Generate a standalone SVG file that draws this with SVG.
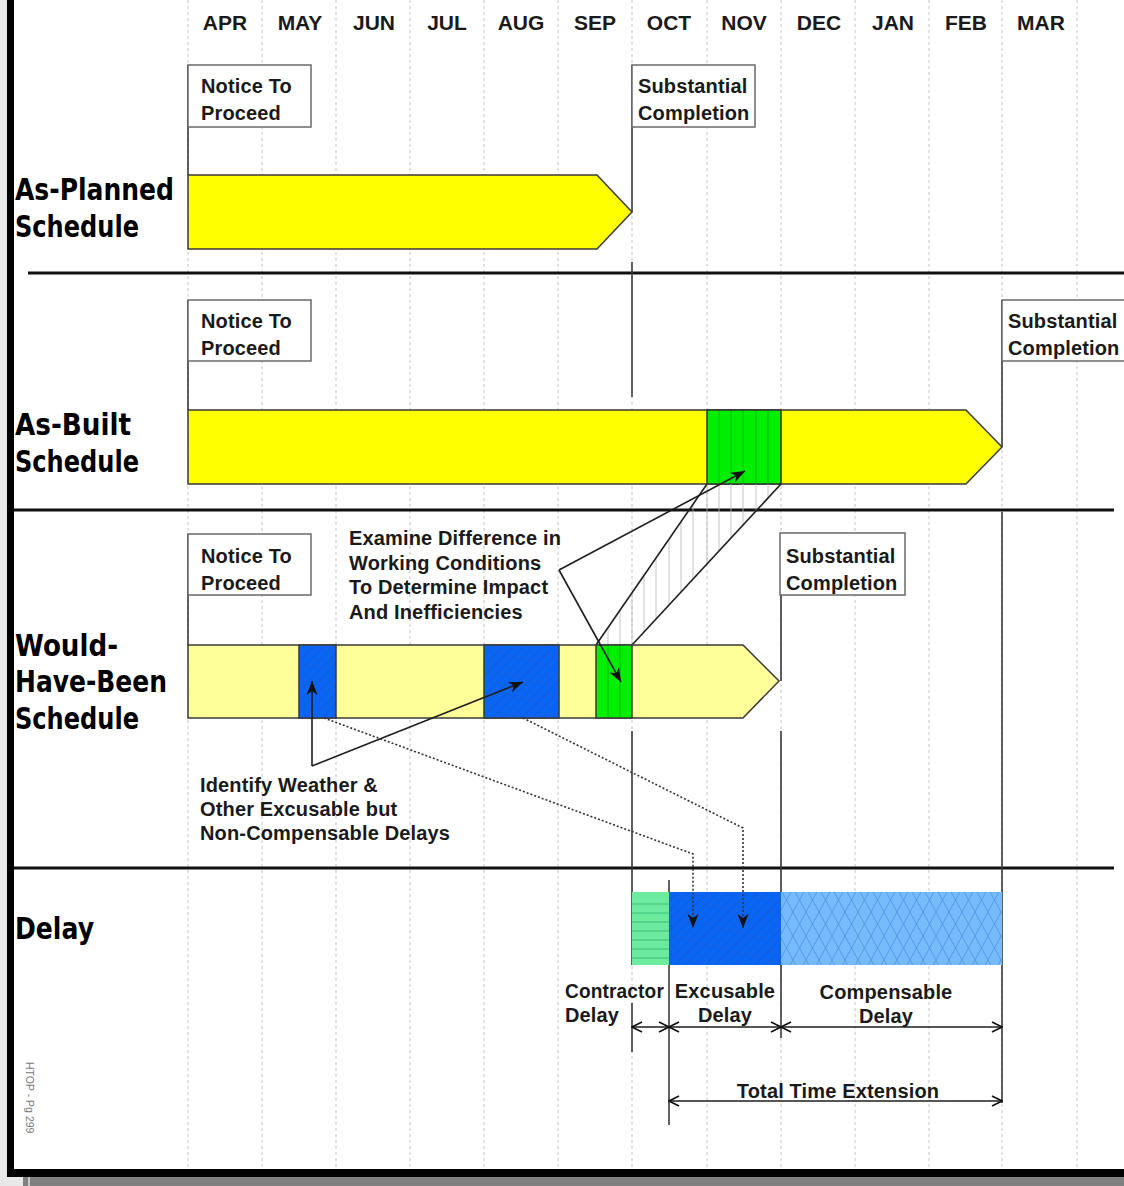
<svg xmlns="http://www.w3.org/2000/svg" width="1124" height="1186" viewBox="0 0 1124 1186">
  <style>
    .grid{stroke:#c4c4c4;stroke-width:1;stroke-dasharray:3 3}
    .sep{stroke:#111;stroke-width:3}
    .box{fill:#fff;stroke:#6a6a6a;stroke-width:1.5}
    .bar{stroke:#3a3a3a;stroke-width:1.5}
    .pin{stroke:#3a3a3a;stroke-width:1.6}
    .lbl{font-family:"Liberation Sans",Arial,sans-serif;font-weight:bold;font-size:20px;letter-spacing:0.15px;fill:#1a1a1a}
    .mon{font-family:"Liberation Sans",Arial,sans-serif;font-weight:bold;font-size:21px;fill:#1a1a1a;text-anchor:middle}
    .row{font-family:"DejaVu Sans",sans-serif;font-weight:bold;font-size:31px;fill:#000}
    .mid{text-anchor:middle}
    .lead{stroke:#1e1e1e;stroke-width:1.6;fill:none}
    .dot{stroke:#333;stroke-width:1.6;stroke-dasharray:2 2;fill:none}
    .dim{stroke:#1e1e1e;stroke-width:1.6;fill:none}
    .vh{stroke:#00a800;stroke-width:0.8}
    .proj{stroke:#b8b8b8;stroke-width:0.8}
    .hz{stroke:#2fb870;stroke-width:0.8}
  </style>
  <defs>
    <marker id="arrowSolid" markerUnits="userSpaceOnUse" markerWidth="15" markerHeight="11" refX="14" refY="5.5" orient="auto">
      <path d="M0,0 L14,5.5 L0,11 L4,5.5 z" fill="#111"/>
    </marker>
    <marker id="arrowOpen" markerUnits="userSpaceOnUse" markerWidth="12" markerHeight="12" refX="11" refY="6" orient="auto-start-reverse">
      <path d="M1,1 L11,6 L1,11" fill="none" stroke="#111" stroke-width="1.6"/>
    </marker>
    <pattern id="blueHatch" patternUnits="userSpaceOnUse" width="10" height="10">
      <rect width="10" height="10" fill="#0a66f2"/>
      <path d="M-2.5,2.5 L2.5,-2.5 M0,10 L10,0 M7.5,12.5 L12.5,7.5" stroke="#1a55c8" stroke-width="0.8"/>
    </pattern>
    <pattern id="diamond" patternUnits="userSpaceOnUse" width="13" height="24">
      <rect width="13" height="24" fill="#78bbfc"/>
      <path d="M0,0 L13,24 M13,0 L0,24" stroke="#4a90e0" stroke-width="0.8"/>
    </pattern>
    <clipPath id="projClip">
      <polygon points="596,645 632,645 781,484 707,484"/>
    </clipPath>
  </defs>

  <!-- page frame -->
  <rect x="0" y="0" width="1124" height="1186" fill="#e8e8e8"/>
  <rect x="14" y="0" width="1110" height="1169" fill="#fff"/>
  <rect x="7" y="0" width="7" height="1177" fill="#000"/>
  <rect x="7" y="1169" width="1117" height="8" fill="#000"/>
  <rect x="23" y="1177" width="1101" height="9" fill="#808080"/>
  <rect x="28" y="1177" width="2" height="9" fill="#c8c8c8"/>

  <!-- month grid -->
  <g id="grid">
    <line class="grid" x1="188" y1="0" x2="188" y2="1168"/>
    <line class="grid" x1="262" y1="0" x2="262" y2="1168"/>
    <line class="grid" x1="336" y1="0" x2="336" y2="1168"/>
    <line class="grid" x1="410" y1="0" x2="410" y2="1168"/>
    <line class="grid" x1="484" y1="0" x2="484" y2="1168"/>
    <line class="grid" x1="558" y1="0" x2="558" y2="1168"/>
    <line class="grid" x1="632" y1="0" x2="632" y2="1168"/>
    <line class="grid" x1="707" y1="0" x2="707" y2="1168"/>
    <line class="grid" x1="781" y1="0" x2="781" y2="1168"/>
    <line class="grid" x1="855" y1="0" x2="855" y2="1168"/>
    <line class="grid" x1="929" y1="0" x2="929" y2="1168"/>
    <line class="grid" x1="1002" y1="0" x2="1002" y2="1168"/>
    <line class="grid" x1="1077" y1="0" x2="1077" y2="1168"/>
  </g>

  <g id="months">
    <text class="mon" x="225" y="30">APR</text>
    <text class="mon" x="300" y="30">MAY</text>
    <text class="mon" x="374" y="30">JUN</text>
    <text class="mon" x="447" y="30">JUL</text>
    <text class="mon" x="521" y="30">AUG</text>
    <text class="mon" x="595" y="30">SEP</text>
    <text class="mon" x="669" y="30">OCT</text>
    <text class="mon" x="744" y="30">NOV</text>
    <text class="mon" x="819" y="30">DEC</text>
    <text class="mon" x="893" y="30">JAN</text>
    <text class="mon" x="966" y="30">FEB</text>
    <text class="mon" x="1041" y="30">MAR</text>
  </g>

  <!-- section dividers -->
  <g id="dividers">
    <line class="sep" x1="28" y1="273" x2="1124" y2="273"/>
    <line class="sep" x1="14" y1="510" x2="1114" y2="510"/>
    <line class="sep" x1="14" y1="868" x2="1114" y2="868"/>
  </g>

  <!-- row titles -->
  <g id="row-titles">
    <text class="row" x="15" y="200" textLength="159" lengthAdjust="spacingAndGlyphs">As-Planned</text>
    <text class="row" x="15" y="237" textLength="124" lengthAdjust="spacingAndGlyphs">Schedule</text>
    <text class="row" x="15" y="435" textLength="116" lengthAdjust="spacingAndGlyphs">As-Built</text>
    <text class="row" x="15" y="472" textLength="124" lengthAdjust="spacingAndGlyphs">Schedule</text>
    <text class="row" x="15" y="656" textLength="103" lengthAdjust="spacingAndGlyphs">Would-</text>
    <text class="row" x="15" y="692" textLength="152" lengthAdjust="spacingAndGlyphs">Have-Been</text>
    <text class="row" x="15" y="729" textLength="124" lengthAdjust="spacingAndGlyphs">Schedule</text>
    <text class="row" x="15" y="939" textLength="79" lengthAdjust="spacingAndGlyphs">Delay</text>
  </g>

  <!-- milestone pins and connectors -->
  <g id="connectors">
    <line class="pin" x1="188" y1="65" x2="188" y2="175"/>
    <line class="pin" x1="632" y1="65" x2="632" y2="212"/>
    <line class="pin" x1="632" y1="262" x2="632" y2="397"/>
    <line class="pin" x1="188" y1="300" x2="188" y2="410"/>
    <line class="pin" x1="1002" y1="300" x2="1002" y2="447"/>
    <line class="pin" x1="188" y1="534" x2="188" y2="645"/>
    <line class="pin" x1="781" y1="533" x2="781" y2="681"/>
    <line class="pin" x1="632" y1="731" x2="632" y2="965"/>
    <line class="pin" x1="632" y1="1003" x2="632" y2="1052"/>
    <line class="pin" x1="781" y1="731" x2="781" y2="1038"/>
    <line class="pin" x1="669" y1="880" x2="669" y2="1125"/>
    <line class="pin" x1="1002" y1="512" x2="1002" y2="1103"/>
  </g>

  <!-- As-Planned row -->
  <g id="ntp-planned">
    <rect class="box" x="188" y="65" width="123" height="62"/>
    <text class="lbl" x="201" y="93">Notice To</text>
    <text class="lbl" x="201" y="120">Proceed</text>
  </g>
  <g id="sc-planned">
    <rect class="box" x="632" y="65" width="123" height="62"/>
    <text class="lbl" x="638" y="93">Substantial</text>
    <text class="lbl" x="638" y="120">Completion</text>
  </g>
  <g id="bar-planned">
    <polygon class="bar" points="188,175 597,175 632,212 597,249 188,249" fill="#ffff00"/>
  </g>

  <!-- As-Built row -->
  <g id="ntp-built">
    <rect class="box" x="188" y="300" width="123" height="61"/>
    <text class="lbl" x="201" y="328">Notice To</text>
    <text class="lbl" x="201" y="355">Proceed</text>
  </g>
  <g id="sc-built">
    <rect class="box" x="1002" y="300" width="130" height="61"/>
    <text class="lbl" x="1008" y="328">Substantial</text>
    <text class="lbl" x="1008" y="355">Completion</text>
  </g>
  <g id="bar-built">
    <polygon class="bar" points="188,410 966,410 1002,447 966,484 188,484" fill="#ffff00"/>
    <rect x="707" y="410" width="74" height="74" fill="#00ee00"/>
    <line class="vh" x1="719" y1="410" x2="719" y2="484"/>
    <line class="vh" x1="731" y1="410" x2="731" y2="484"/>
    <line class="vh" x1="743" y1="410" x2="743" y2="484"/>
    <line class="vh" x1="756" y1="410" x2="756" y2="484"/>
    <line class="vh" x1="768" y1="410" x2="768" y2="484"/>
    <rect x="707" y="410" width="74" height="74" fill="none" stroke="#333" stroke-width="1.5"/>
  </g>

  <!-- Would-Have-Been row -->
  <g id="ntp-would">
    <rect class="box" x="188" y="534" width="123" height="61"/>
    <text class="lbl" x="201" y="563">Notice To</text>
    <text class="lbl" x="201" y="590">Proceed</text>
  </g>
  <g id="sc-would">
    <rect class="box" x="780" y="533" width="125" height="62"/>
    <text class="lbl" x="786" y="563">Substantial</text>
    <text class="lbl" x="786" y="590">Completion</text>
  </g>
  <g id="projection">
    <g clip-path="url(#projClip)">
      <line class="proj" x1="608" y1="480" x2="608" y2="650"/>
      <line class="proj" x1="620" y1="480" x2="620" y2="650"/>
      <line class="proj" x1="632" y1="480" x2="632" y2="650"/>
      <line class="proj" x1="644" y1="480" x2="644" y2="650"/>
      <line class="proj" x1="656" y1="480" x2="656" y2="650"/>
      <line class="proj" x1="669" y1="480" x2="669" y2="650"/>
      <line class="proj" x1="681" y1="480" x2="681" y2="650"/>
      <line class="proj" x1="693" y1="480" x2="693" y2="650"/>
      <line class="proj" x1="707" y1="480" x2="707" y2="650"/>
      <line class="proj" x1="719" y1="480" x2="719" y2="650"/>
      <line class="proj" x1="731" y1="480" x2="731" y2="650"/>
      <line class="proj" x1="743" y1="480" x2="743" y2="650"/>
      <line class="proj" x1="756" y1="480" x2="756" y2="650"/>
      <line class="proj" x1="768" y1="480" x2="768" y2="650"/>
    </g>
    <line class="lead" x1="596" y1="645" x2="707" y2="484"/>
    <line class="lead" x1="632" y1="645" x2="781" y2="484"/>
  </g>
  <g id="bar-would">
    <polygon class="bar" points="188,645 743,645 779,681 743,718 188,718" fill="#ffff99"/>
    <rect class="bar" x="299" y="645" width="37" height="73" fill="url(#blueHatch)"/>
    <rect class="bar" x="484" y="645" width="75" height="73" fill="url(#blueHatch)"/>
    <rect x="596" y="645" width="36" height="73" fill="#00ee00"/>
    <line class="vh" x1="608" y1="645" x2="608" y2="718"/>
    <line class="vh" x1="620" y1="645" x2="620" y2="718"/>
    <rect class="bar" x="596" y="645" width="36" height="73" fill="none"/>
  </g>

  <g id="note-examine">
    <text class="lbl" x="349" y="545">Examine Difference in</text>
    <text class="lbl" x="349" y="570">Working Conditions</text>
    <text class="lbl" x="349" y="594">To Determine Impact</text>
    <text class="lbl" x="349" y="619">And Inefficiencies</text>
  </g>
  <g id="note-identify">
    <text class="lbl" x="200" y="792">Identify Weather &amp;</text>
    <text class="lbl" x="200" y="816">Other Excusable but</text>
    <text class="lbl" x="200" y="840">Non-Compensable Delays</text>
  </g>

  <!-- Delay row -->
  <g id="delay-contractor">
    <rect x="632" y="892" width="37" height="73" fill="#6cea9e"/>
    <line class="hz" x1="632" y1="904" x2="669" y2="904"/>
    <line class="hz" x1="632" y1="913" x2="669" y2="913"/>
    <line class="hz" x1="632" y1="922" x2="669" y2="922"/>
    <line class="hz" x1="632" y1="931" x2="669" y2="931"/>
    <line class="hz" x1="632" y1="940" x2="669" y2="940"/>
    <line class="hz" x1="632" y1="949" x2="669" y2="949"/>
    <line class="hz" x1="632" y1="958" x2="669" y2="958"/>
    <text class="lbl" x="565" y="998" textLength="99" lengthAdjust="spacingAndGlyphs">Contractor</text>
    <text class="lbl" x="565" y="1022">Delay</text>
  </g>
  <g id="delay-excusable">
    <rect x="669" y="892" width="112" height="73" fill="url(#blueHatch)"/>
    <text class="lbl mid" x="725" y="998">Excusable</text>
    <text class="lbl mid" x="725" y="1022">Delay</text>
  </g>
  <g id="delay-compensable">
    <rect x="781" y="892" width="221" height="73" fill="url(#diamond)"/>
    <text class="lbl mid" x="886" y="999">Compensable</text>
    <text class="lbl mid" x="886" y="1023">Delay</text>
  </g>
  <g id="total-extension">
    <text class="lbl mid" x="838" y="1098">Total Time Extension</text>
  </g>

  <!-- leaders, dotted transfers and dimensions -->
  <g id="arrows">
    <line class="lead" x1="559" y1="570" x2="745" y2="471" marker-end="url(#arrowSolid)"/>
    <line class="lead" x1="559" y1="570" x2="621" y2="682" marker-end="url(#arrowSolid)"/>
    <line class="lead" x1="312" y1="766" x2="312" y2="681" marker-end="url(#arrowSolid)"/>
    <line class="lead" x1="312" y1="766" x2="523" y2="682" marker-end="url(#arrowSolid)"/>
    <path class="dot" d="M324,718 L693,854 L693,928" marker-end="url(#arrowSolid)"/>
    <path class="dot" d="M523,718 L743,828 L743,928" marker-end="url(#arrowSolid)"/>
    <line class="dim" x1="632" y1="1027" x2="669" y2="1027" marker-start="url(#arrowOpen)" marker-end="url(#arrowOpen)"/>
    <line class="dim" x1="669" y1="1027" x2="781" y2="1027" marker-start="url(#arrowOpen)" marker-end="url(#arrowOpen)"/>
    <line class="dim" x1="781" y1="1027" x2="1002" y2="1027" marker-start="url(#arrowOpen)" marker-end="url(#arrowOpen)"/>
    <line class="dim" x1="669" y1="1101" x2="1002" y2="1101" marker-start="url(#arrowOpen)" marker-end="url(#arrowOpen)"/>
  </g>

  <text x="26" y="1062" transform="rotate(90 26 1062)" font-family="Liberation Sans, Arial, sans-serif" font-size="10.5" fill="#7a7a7a">HTOP - Pg 299</text>
</svg>
